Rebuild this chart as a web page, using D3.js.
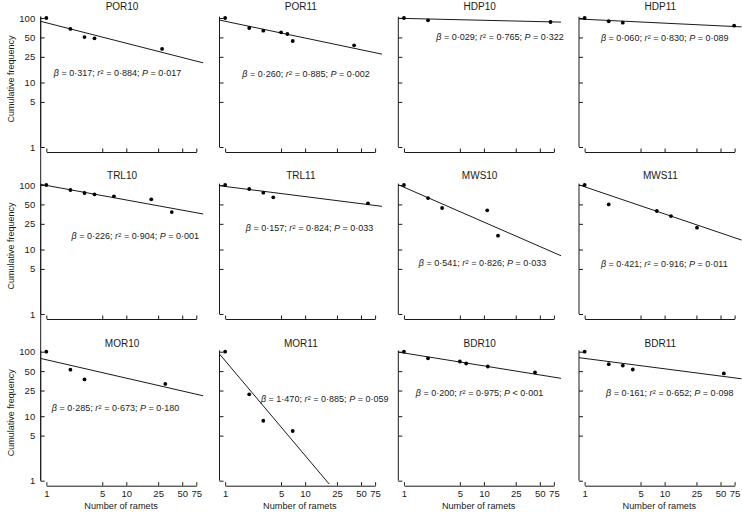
<!DOCTYPE html>
<html>
<head>
<meta charset="utf-8">
<script src="https://cdn.jsdelivr.net/npm/d3@7"></script>
<style>
  body { margin: 0; background: #fff; }
  svg { display: block; }
</style>
</head>
<body>
<svg id="chart" width="742" height="515"></svg>
<script>
// Panel names, read row by row
const panels = ["POR10", "POR11", "HDP10", "HDP11",
                "TRL10", "TRL11", "MWS10", "MWS11",
                "MOR10", "MOR11", "BDR10", "BDR11"];

// Number of ramets (x) for each panel's points
const ramets = [
  [1, 2, 3, 4, 28],
  [1, 2, 3, 5, 6, 7, 41],
  [1, 2, 68],
  [1, 2, 3, 74],
  [1, 2, 3, 4, 7, 20.5, 37],
  [1, 2, 3, 4, 61],
  [1, 2, 3, 11, 15],
  [1, 2, 8, 12, 25.4],
  [1, 2, 3, 30.7],
  [1, 2, 3, 7],
  [1, 2, 5, 6, 11.2, 43.5],
  [1, 2, 3, 4, 55]
];

// Cumulative frequency (y) for each panel's points
const freqs = [
  [100, 67.6, 50.7, 48.4, 33.1],
  [100, 70, 63.6, 60, 56.5, 44, 37.7],
  [100, 92, 86.7],
  [100, 89, 84.7, 76],
  [100, 83.6, 75.2, 71.7, 66.7, 60, 38.1],
  [100, 86.7, 76, 64.5, 52],
  [100, 62.8, 44, 40.5, 16.4],
  [100, 50, 39.5, 33, 21.8],
  [100, 52.6, 37.2, 31.6],
  [100, 21.8, 8.5, 5.9],
  [100, 79, 70.5, 65.6, 59, 47.6],
  [100, 64, 61, 53, 46]
];

// Fitted power law: freq = intercept * ramets^(-beta)
const betas = [0.317, 0.260, 0.029, 0.060, 0.226, 0.157, 0.541, 0.421, 0.285, 1.470, 0.200, 0.161];
const intercepts = [84.3, 89, 98.5, 95.5, 98.6, 94.9, 92.4, 93.8, 75, 72.5, 95.5, 78.7];
const r2s = ["0·884", "0·885", "0·765", "0·830", "0·904", "0·824", "0·826", "0·916", "0·673", "0·885", "0·975", "0·652"];
const pvals = ["= 0·017", "= 0·002", "= 0·322", "= 0·089", "= 0·001", "= 0·033", "= 0·033", "= 0·011", "= 0·180", "= 0·059", "< 0·001", "= 0·098"];

const xTicks = [1, 5, 10, 25, 50, 75];
const yTicks = [1, 5, 10, 25, 50, 100];

// layout
const colX = [40.7, 219.5, 398.3, 579];
const rowY = [18, 185, 351.7];
const titleDy = [-8.3, -6, -5];
const pw = 162.7, ph = 129;
// where each stats label sits (centre, relative to panel origin)
const labelPos = [
  [76.8, 54.7], [86.5, 56], [101.7, 18.7], [85.7, 19.7],
  [94.6, 50.7], [90, 43.3], [84.2, 78.3], [85.3, 79.3],
  [74.8, 56.6], [105.2, 47.3], [81.2, 41], [90.8, 41]
];

const font = "'Liberation Sans', Arial, Helvetica, sans-serif";
const ink = "#1a1a1a";

const svg = d3.select("#chart");
svg.selectAll("*").remove();

const x = d3.scaleLog().domain([0.85, 92]).range([0, pw]);
const y = d3.scaleLog().domain([1, 100]).range([ph, 0]);
const xa = d3.scaleLog().domain([1, 75]).range([x(1), x(75)]);
const fmt = d => d3.format(".3f")(d).replace(".", "·");

// left column has one continuous vertical rule
svg.append("line")
  .attr("x1", colX[0]).attr("x2", colX[0])
  .attr("y1", rowY[0] + y(105)).attr("y2", rowY[2] + ph)
  .attr("stroke", ink).attr("stroke-width", 1);

svg.append("defs").append("clipPath").attr("id", "plotclip")
  .append("rect")
  .attr("x", 0).attr("y", y(110))
  .attr("width", pw).attr("height", y(0.89) - y(110));

panels.forEach((name, i) => {
  const c = i % 4, r = Math.floor(i / 4);
  const g = svg.append("g").attr("transform", `translate(${colX[c]},${rowY[r]})`);

  // y axis
  const ya = g.append("g")
    .call(d3.axisLeft(y).tickValues(yTicks).tickSize(-4).tickPadding(5.5)
      .tickFormat(c === 0 ? d3.format("d") : () => ""));
  ya.select(".domain").remove();
  ya.append("line").attr("x1", 0).attr("x2", 0).attr("y1", y(105)).attr("y2", y(1))
    .attr("stroke", ink);

  // x axis, dropped a little below the y=1 line
  const xg = g.append("g")
    .attr("transform", `translate(0,${ph + 5})`)
    .call(d3.axisBottom(xa).tickValues(xTicks).tickSize(-3.5).tickSizeOuter(0).tickPadding(5)
      .tickFormat(r === 2 ? d3.format("d") : () => ""));

  [ya, xg].forEach(a => {
    a.selectAll("line").attr("stroke", ink);
    a.select(".domain").attr("stroke", ink);
    a.selectAll("text").attr("font-family", font).attr("font-size", "9.5px").attr("fill", ink);
  });

  // title
  g.append("text")
    .attr("x", pw / 2).attr("y", titleDy[r])
    .attr("text-anchor", "middle")
    .attr("font-family", font).attr("font-size", "10px").attr("fill", ink)
    .text(name);

  // regression line
  const fit = n => intercepts[i] * Math.pow(n, -betas[i]);
  const xs = x.domain();
  g.append("line")
    .attr("clip-path", "url(#plotclip)")
    .attr("x1", x(xs[0])).attr("y1", y(fit(xs[0])))
    .attr("x2", x(xs[1])).attr("y2", y(fit(xs[1])))
    .attr("stroke", ink).attr("stroke-width", 1);

  // points
  g.selectAll("circle.pt")
    .data(ramets[i].map((n, k) => [n, freqs[i][k]]))
    .join("circle")
    .attr("class", "pt")
    .attr("cx", d => x(d[0])).attr("cy", d => y(d[1]))
    .attr("r", 1.9).attr("fill", "#000");

  // stats label
  const t = g.append("text")
    .attr("x", labelPos[i][0]).attr("y", labelPos[i][1])
    .attr("dy", "0.35em")
    .attr("text-anchor", "middle")
    .attr("font-family", font).attr("font-size", "9px").attr("fill", ink);
  t.append("tspan").attr("font-style", "italic").text("β");
  t.append("tspan").text(` = ${fmt(betas[i])}; `);
  t.append("tspan").attr("font-style", "italic").text("r");
  t.append("tspan").attr("font-size", "6.2px").attr("dy", "-0.35em").text("2");
  t.append("tspan").attr("dy", "0.23em").text(` = ${r2s[i]}; `);
  t.append("tspan").attr("font-style", "italic").text("P");
  t.append("tspan").text(` ${pvals[i]}`);

  // axis titles
  if (c === 0) {
    g.append("text")
      .attr("transform", `translate(-26.5,61) rotate(-90)`)
      .attr("text-anchor", "middle")
      .attr("font-family", font).attr("font-size", "9px").attr("fill", ink)
      .text("Cumulative frequency");
  }
  if (r === 2) {
    g.append("text")
      .attr("x", pw / 2 - 1).attr("y", ph + 28)
      .attr("text-anchor", "middle")
      .attr("font-family", font).attr("font-size", "9.2px").attr("fill", ink)
      .text("Number of ramets");
  }
});
</script>
</body>
</html>
